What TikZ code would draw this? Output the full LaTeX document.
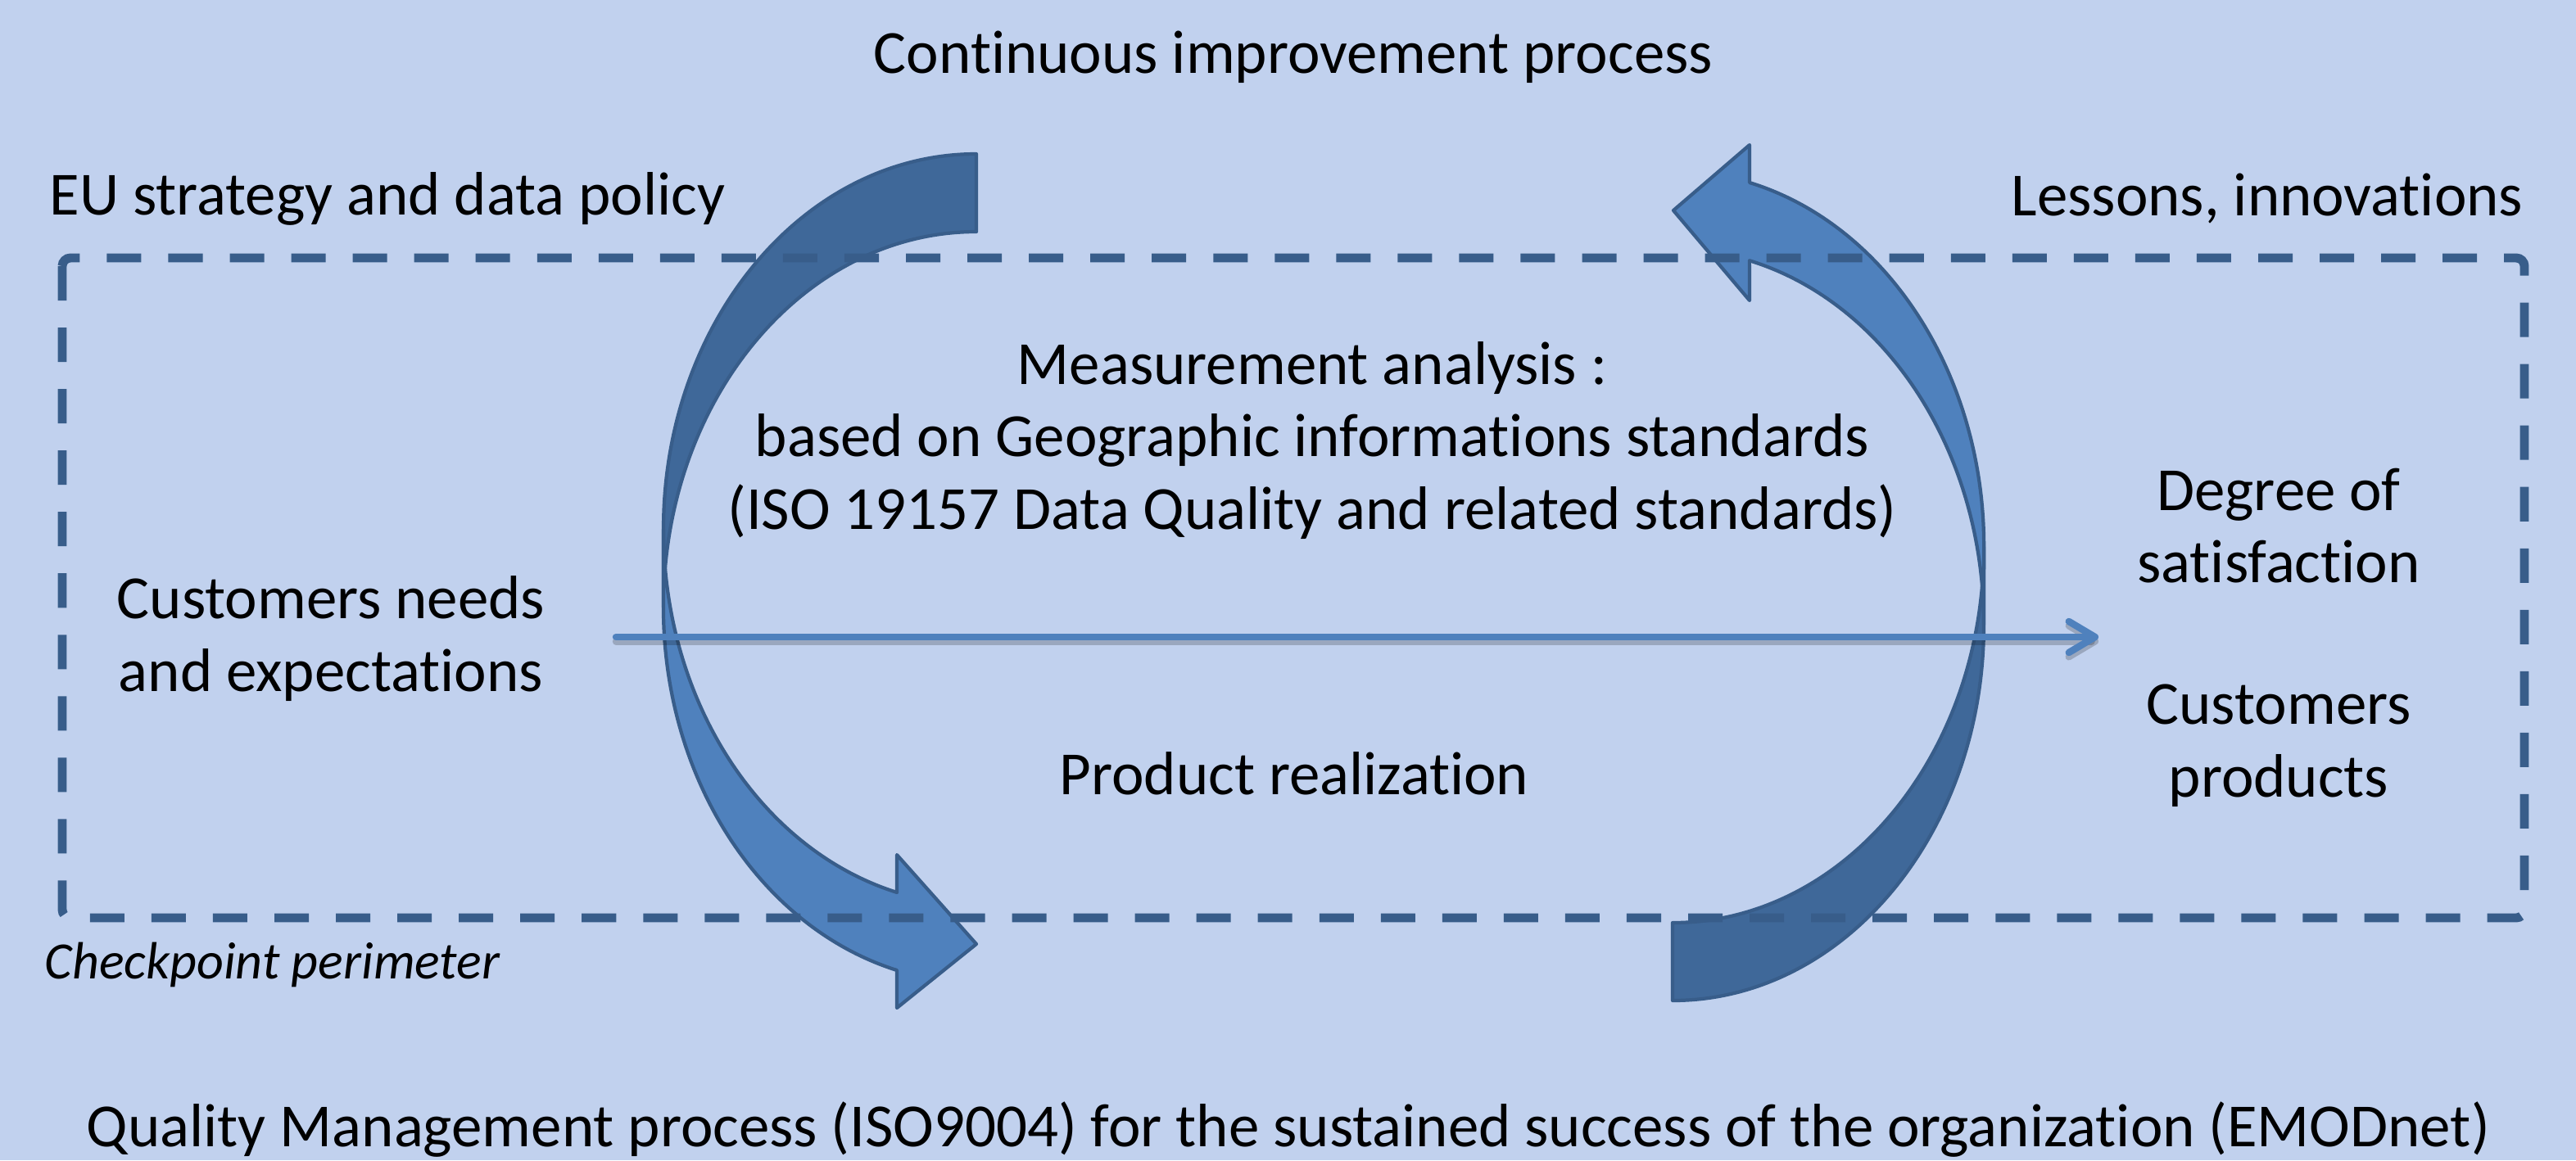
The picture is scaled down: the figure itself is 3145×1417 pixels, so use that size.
\documentclass[tikz,border=0pt]{standalone}
\usepackage{fontspec}
\setmainfont{Carlito}[Ligatures={NoCommon,NoContextual}]
\usepackage{tikz}
\usetikzlibrary{arrows.meta, positioning}

\definecolor{bgblue}{RGB}{193,209,238}
\definecolor{arrowblue}{RGB}{79,129,189}
\definecolor{arrowdark}{RGB}{63,104,153}
\definecolor{edgeblue}{RGB}{56,93,138}

\begin{document}
\begin{tikzpicture}[x=0.01cm, y=-0.01cm,
    label/.style={font=\fontsize{21.3pt}{25.2pt}\selectfont, align=center, inner sep=0pt},
    note/.style={font=\fontsize{18.2pt}{21pt}\selectfont\itshape, inner sep=0pt},
    front/.style={fill=arrowblue, draw=edgeblue, line width=1.2pt, line join=round},
    back/.style={fill=arrowdark, draw=edgeblue, line width=1.2pt, line join=round},
    perimeter/.style={draw=edgeblue, line width=3.1pt, dash pattern=on 0.42cm off 0.33cm, rounded corners=1mm},
    flow/.style={draw=arrowblue, line width=2.4pt, line cap=round, -{Straight Barb[length=3.2mm, width=3.8mm, round]}},
    flowshadow/.style={flow, draw=black, opacity=0.2, transform canvas={yshift=-1.5pt}}]

% Background
\fill[bgblue] (0,0) rectangle (3145,1417);

% Left curved arrow: back half (top), front half (bottom)
\draw[back] (1192,188) arc[start angle=270, end angle=180, x radius=382, y radius=458.5]
    -- (810,741.5) arc[start angle=180, end angle=270, x radius=382, y radius=458.5] -- cycle;
\draw[front] (810,646.5) arc[start angle=180, end angle=104.7, x radius=382, y radius=458.5]
    -- (1095,1044) -- (1192,1153) -- (1095,1231) -- (1095,1185)
    arc[start angle=104.7, end angle=180, x radius=382, y radius=458.5] -- cycle;

% Right curved arrow: back half (bottom), front half (top)
\draw[back] (2042,1222) arc[start angle=90, end angle=0, x radius=380, y radius=459]
    -- (2422,668) arc[start angle=0, end angle=90, x radius=380, y radius=459] -- cycle;
\draw[front] (2422,763) arc[start angle=0, end angle=-75.7, x radius=380, y radius=459]
    -- (2136,367) -- (2043,257) -- (2136,177) -- (2136,223)
    arc[start angle=-75.7, end angle=0, x radius=380, y radius=459] -- cycle;

% Checkpoint perimeter
\draw[perimeter] (76,315) rectangle (3082,1121);

% Texts
\node[label] (title) at (1579,70) {Continuous improvement process};
\node[label, anchor=west] (policy) at (60,243) {EU strategy and data policy};
\node[label, anchor=east] (lessons) at (3081,243) {Lessons, innovations};
\node[label] (measure) at (1602,538) {Measurement analysis :\\based on Geographic informations standards\\(ISO 19157 Data Quality and related standards)};
\node[label] (needs) at (404,780) {Customers needs\\and expectations};
\node[label] (satisf) at (2782,642) {Degree of\\satisfaction};
\node[label] (products) at (2782,911) {Customers\\products};
\node[label] (realize) at (1580,945) {Product realization};
\node[note, anchor=west] (perim) at (54,1178) {Checkpoint perimeter};
\node[label] (quality) at (1573,1380) {Quality Management process (ISO9004) for the sustained success of the organization (EMODnet)};

% Flow from needs to satisfaction
\coordinate (flow-start) at (752,778);
\coordinate (flow-end) at (2562,778);
\draw[flowshadow] (flow-start) -- (flow-end);
\draw[flow] (flow-start) -- (flow-end);

\end{tikzpicture}
\end{document}
